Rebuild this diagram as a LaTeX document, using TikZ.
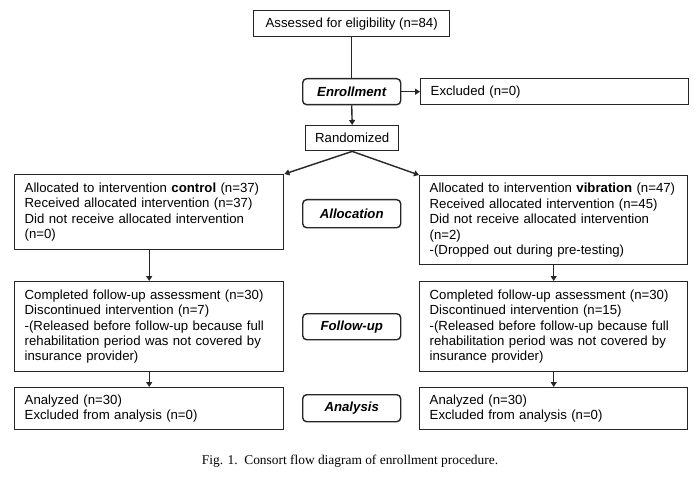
\documentclass[tikz,border=0pt]{standalone}
\usepackage{fontspec}
\setmainfont{Liberation Serif}
\setsansfont{Liberation Sans}
\usetikzlibrary{arrows.meta}
\begin{document}
\begin{tikzpicture}[x=1pt,y=-1pt,
  txt/.style={font=\sffamily\fontsize{13.2}{15.4}\selectfont},
  box/.style={txt, draw=black!85, line width=1.4pt, inner xsep=10pt, inner ysep=0pt, align=left, anchor=north west},
  sbox/.style={txt, draw=black!85, line width=1.4pt, inner sep=0pt, anchor=north west},
  stage/.style={draw=black!85, line width=1.4pt, rounded corners=4pt, inner sep=0pt, anchor=north west,
     minimum width=98pt, font=\sffamily\bfseries\itshape\fontsize{13.2}{15}\selectfont},
  conn/.style={line width=1.4pt, draw=black!85},
  arr/.style={conn, -{Triangle[length=5pt,width=6pt]}}]
\useasboundingbox (0,0) rectangle (700,478);
% top
\node[sbox, minimum width=196pt, minimum height=26pt] (assess) at (253,10) {Assessed for eligibility (n=84)};
\node[stage, minimum height=26pt] (enr) at (302,78) {Enrollment};
\node[sbox, minimum width=268pt, minimum height=26pt, align=left, text width=248pt, inner xsep=10pt] (excl) at (420,78) {Excluded (n=0)};
\node[sbox, minimum width=93pt, minimum height=25pt] (rand) at (305,125) {Randomized};
% allocation
\node[box, text width=249pt, minimum height=75pt] (la) at (14,174) {Allocated to intervention \textbf{control} (n=37)\\Received allocated intervention (n=37)\\Did not receive allocated intervention\\(n=0)};
\node[box, text width=248pt, minimum height=89pt] (ra) at (419,175) {Allocated to intervention \textbf{vibration} (n=47)\\Received allocated intervention (n=45)\\Did not receive allocated intervention\\(n=2)\\-(Dropped out during pre-testing)};
\node[stage, minimum height=28pt] (alloc) at (302,199) {Allocation};
% follow-up
\node[box, text width=249pt, minimum height=90pt] (lf) at (14,281) {Completed follow-up assessment (n=30)\\Discontinued intervention (n=7)\\-(Released before follow-up because full\\rehabilitation period was not covered by\\insurance provider)};
\node[box, text width=248pt, minimum height=90pt] (rf) at (419,281) {Completed follow-up assessment (n=30)\\Discontinued intervention (n=15)\\-(Released before follow-up because full\\rehabilitation period was not covered by\\insurance provider)};
\node[stage, minimum height=26pt] (fol) at (302,313) {Follow-up};
% analysis
\node[box, text width=249pt, minimum height=42pt] (lan) at (14,387) {Analyzed (n=30)\\Excluded from analysis (n=0)};
\node[box, text width=248pt, minimum height=42pt] (ran) at (419,387) {Analyzed (n=30)\\Excluded from analysis (n=0)};
\node[stage, minimum height=27pt] (ana) at (302,394) {Analysis};
% caption
\node[font=\fontsize{13.4}{15}\selectfont] (cap) at (350,461) {Fig. 1.\ \ Consort flow diagram of enrollment procedure.};
% connectors
\draw[conn] (assess.south) -- (enr.north);
\draw[arr] (enr.east) -- (excl.west);
\draw[arr] (enr.south) -- (rand.north);
\draw[arr] (rand.south) -- (la.north east);
\draw[arr] (rand.south) -- (ra.north west);
\draw[arr] (la.south) -- (lf.north);
\draw[arr] (ra.south) -- (rf.north);
\draw[arr] (lf.south) -- (lan.north);
\draw[arr] (rf.south) -- (ran.north);
\end{tikzpicture}
\end{document}
